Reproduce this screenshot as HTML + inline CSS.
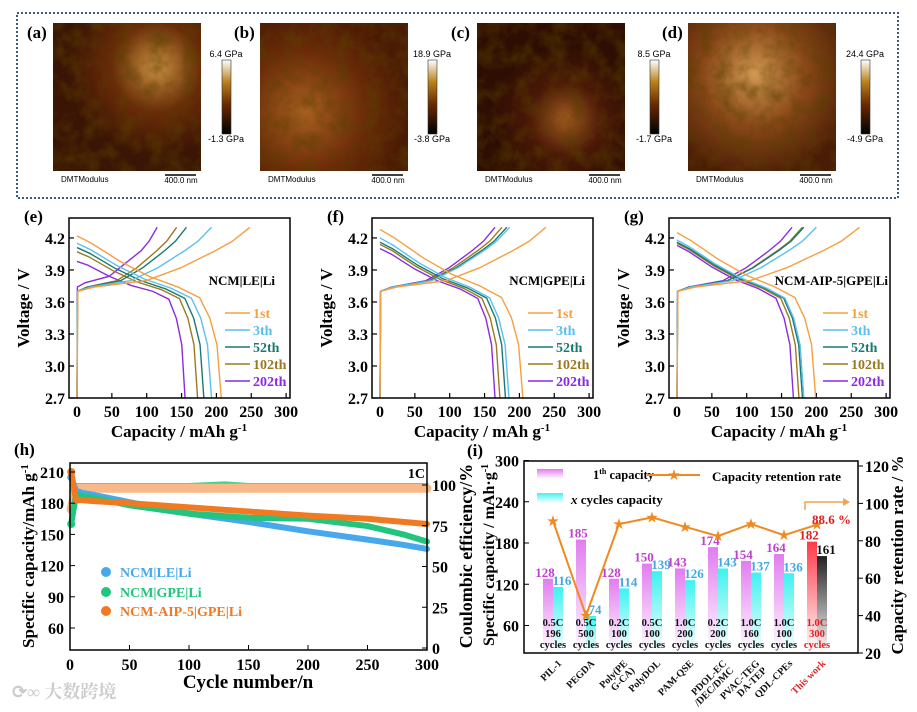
<!DOCTYPE html>
<html><head><meta charset="utf-8"><style>
body{margin:0;background:#fff}
svg text{font-family:"Liberation Serif","Noto Serif CJK SC",serif;font-weight:bold}
.sans{font-family:"Liberation Sans",sans-serif!important;font-weight:normal!important}
</style></head><body>
<svg id="fig" width="917" height="707" viewBox="0 0 917 707" xmlns="http://www.w3.org/2000/svg">
<defs>
<linearGradient id="cbar" x1="0" y1="1" x2="0" y2="0"><stop offset="0" stop-color="#000"/><stop offset="0.4" stop-color="#6a2a00"/><stop offset="0.7" stop-color="#b8801a"/><stop offset="1" stop-color="#fff"/></linearGradient>
<radialGradient id="afm1" cx="0.7" cy="0.3" r="0.6"><stop offset="0" stop-color="#c89040"/><stop offset="0.5" stop-color="#6a2c08"/><stop offset="1" stop-color="#3a1404"/></radialGradient>
<radialGradient id="afm2" cx="0.3" cy="0.6" r="0.7"><stop offset="0" stop-color="#a86020"/><stop offset="0.6" stop-color="#6a2a08"/><stop offset="1" stop-color="#4a1a04"/></radialGradient>
<radialGradient id="afm3" cx="0.6" cy="0.65" r="0.5"><stop offset="0" stop-color="#a05a20"/><stop offset="0.5" stop-color="#4a1806"/><stop offset="1" stop-color="#2e0e02"/></radialGradient>
<radialGradient id="afm4" cx="0.45" cy="0.35" r="0.7"><stop offset="0" stop-color="#d09850"/><stop offset="0.5" stop-color="#8a4818"/><stop offset="1" stop-color="#4a1c06"/></radialGradient>
<filter id="tex" x="0" y="0" width="1" height="1"><feTurbulence type="fractalNoise" baseFrequency="0.06" numOctaves="3" seed="4"/><feColorMatrix type="matrix" values="0 0 0 0 0.1  0 0 0 0 0.05  0 0 0 0 0  0 0 0 1.2 -0.45"/><feComposite in2="SourceGraphic" operator="in"/></filter>
<linearGradient id="gp" x1="0" y1="0" x2="0" y2="1"><stop offset="0" stop-color="#e27cf0"/><stop offset="1" stop-color="#fff"/></linearGradient>
<linearGradient id="gc" x1="0" y1="0" x2="0" y2="1"><stop offset="0" stop-color="#3ef2f0"/><stop offset="1" stop-color="#fff"/></linearGradient>
<linearGradient id="gr" x1="0" y1="0" x2="0" y2="1"><stop offset="0" stop-color="#ff3a48"/><stop offset="1" stop-color="#fff"/></linearGradient>
<linearGradient id="gk" x1="0" y1="0" x2="0" y2="1"><stop offset="0" stop-color="#222"/><stop offset="1" stop-color="#fff"/></linearGradient>
</defs>
<rect x="17" y="13" width="881" height="185" fill="none" stroke="#3a5a8a" stroke-width="2" stroke-dasharray="2,2"/>
<g id="afm"></g>
<g id="vc"></g>
<g id="h"></g>
<g id="i"></g>
<text x="12" y="698" font-size="18" fill="#ccc" font-family="Noto Sans CJK SC">⟳∞ 大数跨境</text>
</svg>
<script>
const NS="http://www.w3.org/2000/svg";
function mk(p,tag,attrs,txt){const e=document.createElementNS(NS,tag);for(const k in attrs)e.setAttribute(k,attrs[k]);if(txt!==undefined)e.textContent=txt;p.appendChild(e);return e;}

// ---------- AFM ----------
const afmLabels=["(a)","(b)","(c)","(d)"];
const afmMax=["6.4 GPa","18.9 GPa","8.5 GPa","24.4 GPa"];
const afmMin=["-1.3 GPa","-3.8 GPa","-1.7 GPa","-4.9 GPa"];
const afmX=[53,260,477,688], cbX=[222,428,650,861];
const A=document.getElementById('afm');
afmX.forEach((x,k)=>{
  const g=mk(A,'g',{});
  
  
  mk(g,'rect',{x:x,y:23,width:148,height:148,fill:'url(#afm'+(k+1)+')'});
  mk(g,'rect',{x:x,y:23,width:148,height:148,fill:'#000',filter:'url(#tex)'});
  mk(g,'text',{x:x-26,y:38,'font-size':17},afmLabels[k]);
  mk(g,'rect',{x:cbX[k],y:60,width:9,height:74,fill:'url(#cbar)',stroke:'#333','stroke-width':0.6});
  mk(g,'text',{x:cbX[k]+4,y:57,'font-size':9,'text-anchor':'middle',class:'sans'},afmMax[k]);
  mk(g,'text',{x:cbX[k]+4,y:142,'font-size':9,'text-anchor':'middle',class:'sans'},afmMin[k]);
  mk(g,'text',{x:x+8,y:182,'font-size':8,class:'sans'},'DMTModulus');
  mk(g,'line',{x1:x+112,y1:175,x2:x+143,y2:175,stroke:'#000','stroke-width':1.5});
  mk(g,'text',{x:x+128,y:183,'font-size':8,'text-anchor':'middle',class:'sans'},'400.0 nm');
});

// ---------- Voltage-capacity panels ----------
const cycleLabels=["1st","3th","52th","102th","202th"];
const cycleColors=["#f5a040","#5cc0ee","#1a7a72","#9a7a20","#8a2be2"];
const eCharge=[248,193,157,143,115], eDis=[207,193,182,173,155], eV0=[4.22,4.15,4.11,4.07,3.98];
const fCharge=[238,186,182,175,165], fDis=[205,185,180,172,165], fV0=[4.28,4.20,4.16,4.14,4.10];
const gCharge=[262,200,182,180,165], gDis=[199,182,180,175,167], gV0=[4.25,4.18,4.16,4.15,4.13];
const disF=[0,0.1,0.3,0.5,0.7,0.85,0.92,0.97,1.0], disV=[4.22,4.15,3.98,3.84,3.74,3.64,3.45,3.2,2.7];
const chF=[0,0.005,0.1,0.4,0.6,0.8,0.9,1.0], chV=[2.7,3.7,3.74,3.80,3.92,4.08,4.17,4.3];
const vTicks=[2.7,3.0,3.3,3.6,3.9,4.2], qTicks=[0,50,100,150,200,250,300];
const panels=[
 {lab:'(e)',off:0,ch:eCharge,dis:eDis,v0:eV0,name:'NCM|LE|Li',nameX:275,legX:225},
 {lab:'(f)',off:303,ch:fCharge,dis:fDis,v0:fV0,name:'NCM|GPE|Li',nameX:585,legX:528},
 {lab:'(g)',off:600,ch:gCharge,dis:gDis,v0:gV0,name:'NCM-AIP-5|GPE|Li',nameX:888,legX:823}];
const VC=document.getElementById('vc');
panels.forEach((P,pi)=>{
  const g=mk(VC,'g',{});
  
  
  const xs=q=>77+P.off+q*0.697, ys=v=>398-(v-2.7)*106.7;
  const L=69+P.off;
  mk(g,'text',{x:L-45,y:222,'font-size':17},P.lab);
  qTicks.forEach(q=>{mk(g,'line',{x1:xs(q),y1:398,x2:xs(q),y2:393,stroke:'#000','stroke-width':1.2});
    mk(g,'text',{x:xs(q),y:417,'font-size':16,'text-anchor':'middle'},q);});
  vTicks.forEach(v=>{mk(g,'line',{x1:L,y1:ys(v),x2:L+5,y2:ys(v),stroke:'#000','stroke-width':1.2});
    mk(g,'text',{x:L-4,y:ys(v)+6,'font-size':16,'text-anchor':'end'},v.toFixed(1));});
  const xt=mk(g,'text',{x:L+110,y:437,'font-size':17,'text-anchor':'middle'},'Capacity / mAh g');
  mk(xt,'tspan',{dy:-6,'font-size':11},'-1');
  mk(g,'text',{x:0,y:0,'font-size':17,'text-anchor':'middle',transform:`translate(${L-40},308) rotate(-90)`},'Voltage / V');
  for(let c=4;c>=0;c--){
    const col=cycleColors[c];
    let pts=chF.map((f,j)=>xs(f*P.ch[c])+','+ys(chV[j]+(j>0&&j<5&&c===4&&pi===0?0.04:0)));
    const ch=mk(g,'polyline',{points:pts.join(' '),fill:'none',stroke:col,'stroke-width':1.4});
    
    
    pts=disF.map((f,j)=>xs(f*P.dis[c])+','+ys(disV[j]+(P.v0[c]-4.22)*Math.pow(1-f,1.5)));
    const d=mk(g,'polyline',{points:pts.join(' '),fill:'none',stroke:col,'stroke-width':1.4});
    
    
    const ly=318+c*17;
    mk(g,'line',{x1:P.legX,y1:ly-5,x2:P.legX+25,y2:ly-5,stroke:col,'stroke-width':1.6});
    mk(g,'text',{x:P.legX+28,y:ly,'font-size':14,fill:col},cycleLabels[c]);
  }
  mk(g,'text',{x:P.nameX,y:285,'font-size':13,'text-anchor':'end'},P.name);
  mk(g,'rect',{x:L,y:218,width:221,height:180,fill:'none',stroke:'#000','stroke-width':1.5});
});

// ---------- Panel h ----------
const hCycles=[1,5,10,20,50,100,150,200,250,280,300];
const hLE=[205,192,190,188,181,170,162,153,145,140,136];
const hGPE=[160,188,187,185,178,170,166,165,158,150,143];
const hAIP=[210,183,183,182,180,176,172,168,165,162,160];
const ceCycles=[1,5,50,100,130,150,200,250,300];
const ceGPE=[96,100,100,100,101,100,100,100,100];
const ceLE=[92,99,99,99,99,99,99,99,99];
const ceAIP=[85,98,98,98,98,98,98,98,98];
const hLeftTicks=[60,90,120,150,180,210], hRightTicks=[0,25,50,75,100], hXTicks=[0,50,100,150,200,250,300];
const H=document.getElementById('h');
(function(){
  const xs=n=>70+n*1.19, ys=c=>628-(c-60)*1.04, yr=e=>648-e*1.63;
  mk(H,'text',{x:14,y:455,'font-size':17},'(h)');
  const series=[[ceLE,'#6ab8f0','ce-le'],[ceGPE,'#40d090','ce-gpe'],[ceAIP,'#f8b888','ce-aip']];
  series.forEach(s=>{const p=mk(H,'polyline',{points:ceCycles.map((n,j)=>xs(n)+','+yr(s[0][j])).join(' '),fill:'none',stroke:s[1],'stroke-width':s[2]==='ce-aip'?9:4,'stroke-linecap':'round'});
    });
  const cs=[[hLE,'#48a8ec','capacity-le'],[hGPE,'#22c47e','capacity-gpe'],[hAIP,'#f07a22','capacity-aip']];
  cs.forEach(s=>{const p=mk(H,'polyline',{points:hCycles.map((n,j)=>xs(n)+','+ys(s[0][j])).join(' '),fill:'none',stroke:s[1],'stroke-width':6,'stroke-linecap':'round','stroke-linejoin':'round'});
    
    mk(H,'circle',{cx:xs(hCycles[0]),cy:ys(s[0][0]),r:4,fill:s[1]});});
  hXTicks.forEach(n=>{mk(H,'line',{x1:xs(n),y1:650,x2:xs(n),y2:645,stroke:'#000'});mk(H,'text',{x:xs(n),y:670,'font-size':16,'text-anchor':'middle'},n);});
  hLeftTicks.forEach(c=>{mk(H,'line',{x1:70,y1:ys(c),x2:75,y2:ys(c),stroke:'#000'});mk(H,'text',{x:64,y:ys(c)+6,'font-size':16,'text-anchor':'end'},c);});
  hRightTicks.forEach(e=>{mk(H,'line',{x1:422,y1:yr(e),x2:427,y2:yr(e),stroke:'#000'});mk(H,'text',{x:432,y:yr(e)+6,'font-size':16},e);});
  mk(H,'rect',{x:70,y:463,width:357,height:187,fill:'none',stroke:'#000','stroke-width':1.5});
  mk(H,'text',{x:425,y:478,'font-size':14,'text-anchor':'end'},'1C');
  const lg=[['NCM|LE|Li','#48a8ec',577],['NCM|GPE|Li','#22c47e',597],['NCM-AIP-5|GPE|Li','#f07a22',616]];
  lg.forEach(l=>{mk(H,'circle',{cx:106,cy:l[2]-5,r:5,fill:l[1]});mk(H,'text',{x:120,y:l[2],'font-size':14,fill:l[1]},l[0]);});
  mk(H,'text',{x:248,y:688,'font-size':19,'text-anchor':'middle'},'Cycle number/n');
  const yt=mk(H,'text',{'font-size':17,'text-anchor':'middle',transform:'translate(34,556) rotate(-90)'},'Specific capacity/mAh g');
  mk(yt,'tspan',{dy:-6,'font-size':11},'-1');
  mk(H,'text',{'font-size':18,'text-anchor':'middle',transform:'translate(472,556) rotate(-90)'},'Coulombic efficiency/%');
})();

// ---------- Panel i ----------
const iCats=["PIL-1","PEGDA","Poly(PEG-CA)","PolyDOL","PAM-QSE","PDOL-EC/DEC/DMC","PVAC-TEGDA-TEP","QDL-CPEs","This work"];
const iCatLines=[["PIL-1"],["PEGDA"],["Poly(PE","G-CA)"],["PolyDOL"],["PAM-QSE"],["PDOL-EC","/DEC/DMC"],["PVAC-TEG","DA-TEP"],["QDL-CPEs"],["This work"]];
const iFirst=[128,185,128,150,143,174,154,164,182];
const iCycled=[116,74,114,139,126,143,137,136,161];
const iRetention=[90.6,40,89,92.5,87.5,82.5,89,83,88.6];
const iRates=["0.5C","0.5C","0.2C","0.5C","1.0C","0.2C","1.0C","1.0C","1.0C"];
const iNcyc=["196","500","100","100","200","200","160","100","300"];
const iLeftTicks=[60,120,180,240,300], iRightTicks=[20,40,60,80,100,120];
const I=document.getElementById('i');
(function(){
  const cx=k=>548+k*33, yl=c=>653-(c-20)*0.6875, yr=r=>653-(r-20)*1.87;
  mk(I,'text',{x:467,y:456,'font-size':17},'(i)');
  iCats.forEach((c,k)=>{
    const last=k===8;
    const b1=mk(I,'rect',{x:cx(k)-5,y:yl(iFirst[k]),width:10,height:653-yl(iFirst[k]),fill:last?'url(#gr)':'url(#gp)'});
    
    const b2=mk(I,'rect',{x:cx(k)+5,y:yl(iCycled[k]),width:10,height:653-yl(iCycled[k]),fill:last?'url(#gk)':'url(#gc)'});
    
    mk(I,'text',{x:cx(k)-3,y:yl(iFirst[k])-2,'font-size':13,'text-anchor':'middle',fill:last?'#e02020':'#c040d0'},iFirst[k]);
    mk(I,'text',{x:cx(k)+14,y:yl(iCycled[k])-2,'font-size':13,'text-anchor':'middle',fill:last?'#111':'#40a8e0'},iCycled[k]);
    const col=last?'#e02020':'#111';
    mk(I,'text',{x:cx(k)+5,y:626,'font-size':10.5,'text-anchor':'middle',fill:col},iRates[k]);
    mk(I,'text',{x:cx(k)+5,y:637,'font-size':10.5,'text-anchor':'middle',fill:col},iNcyc[k]);
    mk(I,'text',{x:cx(k)+5,y:648,'font-size':10.5,'text-anchor':'middle',fill:col},'cycles');
    const t=mk(I,'text',{'font-size':10,'text-anchor':'end',fill:last?'#e02020':'#111',transform:`translate(${cx(k)+14},664) rotate(-45)`});
    iCatLines[k].forEach((ln,j)=>mk(t,'tspan',{x:0,dy:j?10:0},ln));
  });
  const pl=mk(I,'polyline',{points:iRetention.map((r,k)=>(cx(k)+5)+','+yr(r)).join(' '),fill:'none',stroke:'#f08a20','stroke-width':2});
  
  iRetention.forEach((r,k)=>{const s=mk(I,'text',{x:cx(k)+5,y:yr(r)+5,'font-size':15,'text-anchor':'middle',fill:'#f08a20',class:'sans'},'★');
    });
  iLeftTicks.forEach(c=>{mk(I,'line',{x1:524,y1:yl(c),x2:529,y2:yl(c),stroke:'#000'});mk(I,'text',{x:519,y:yl(c)+6,'font-size':16,'text-anchor':'end'},c);});
  iRightTicks.forEach(r=>{mk(I,'line',{x1:858,y1:yr(r),x2:863,y2:yr(r),stroke:'#000'});mk(I,'text',{x:865,y:yr(r)+6,'font-size':16},r);});
  mk(I,'rect',{x:524,y:461,width:334,height:192,fill:'none',stroke:'#000','stroke-width':1.5});
  mk(I,'rect',{x:537,y:469,width:26,height:10,fill:'url(#gp)'});
  const t1=mk(I,'text',{x:593,y:479,'font-size':12.5},'1');
  mk(t1,'tspan',{dy:-5,'font-size':8},'th');mk(t1,'tspan',{dy:5},' capacity');
  mk(I,'rect',{x:537,y:493,width:26,height:10,fill:'url(#gc)'});
  const xt=mk(I,'text',{x:571,y:504,'font-size':13});
  mk(xt,'tspan',{'font-style':'italic'},'x');mk(xt,'tspan',{},' cycles capacity');
  mk(I,'line',{x1:647,y1:475,x2:700,y2:475,stroke:'#f08a20','stroke-width':2});
  mk(I,'text',{x:674,y:480,'font-size':15,'text-anchor':'middle',fill:'#f08a20',class:'sans'},'★');
  mk(I,'text',{x:712,y:481,'font-size':13},'Capacity retention rate');
  mk(I,'polyline',{points:'805,510 805,502 845,502',fill:'none',stroke:'#f5a050','stroke-width':1.5});
  mk(I,'polygon',{points:'850,502 843,498 843,506',fill:'#f5a050'});
  mk(I,'text',{x:812,y:524,'font-size':13,fill:'#e02020'},'88.6 %');
  const yt=mk(I,'text',{'font-size':16,'text-anchor':'middle',transform:'translate(494,555) rotate(-90)'},'Specific capacity / mAh·g');
  mk(yt,'tspan',{dy:-6,'font-size':10},'-1');
  mk(I,'text',{'font-size':17,'text-anchor':'middle',transform:'translate(903,555) rotate(-90)'},'Capacity retention rate / %');
})();
</script>
</body></html>
